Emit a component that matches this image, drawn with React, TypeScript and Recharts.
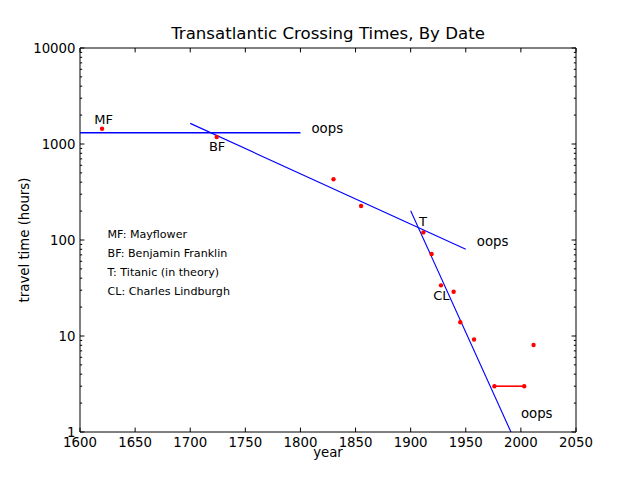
import React from 'react';
import { ComposedChart, XAxis, YAxis, Line, Scatter } from 'recharts';

const xTicks = [1600, 1650, 1700, 1750, 1800, 1850, 1900, 1950, 2000, 2050];
const yMajorTicks = [1, 10, 100, 1000, 10000];
const yMinorFactors = [2, 3, 4, 5, 6, 7, 8, 9];

const crossings = [
  { x: 1620, y: 1443 },
  { x: 1724, y: 1183 },
  { x: 1830, y: 429 },
  { x: 1855, y: 226 },
  { x: 1911.5, y: 120 },
  { x: 1919, y: 71.5 },
  { x: 1927.5, y: 33.7 },
  { x: 1939, y: 28.9 },
  { x: 1945, y: 13.9 },
  { x: 1957.5, y: 9.2 },
  { x: 2011.5, y: 8.06 },
];

const concorde = [
  { x: 1976, y: 3 },
  { x: 2003, y: 3 },
];

const sailFit = [
  { x: 1600, y: 1310 },
  { x: 1800, y: 1310 },
];
const steamFit = [
  { x: 1700, y: 1640 },
  { x: 1950, y: 80 },
];
const jetFit = [
  { x: 1900, y: 202 },
  { x: 1991, y: 1 },
];

const pointLabels = [
  { x: 1613, y: 1616, label: 'MF' },
  { x: 1717, y: 845, label: 'BF' },
  { x: 1907.5, y: 140, label: 'T' },
  { x: 1920.5, y: 23.7, label: 'CL' },
];

const oopsLabels = [
  { x: 1810, y: 1302, label: 'oops' },
  { x: 1960, y: 86.6, label: 'oops' },
  { x: 2000, y: 1.41, label: 'oops' },
];

const legendLines = [
  { x: 1625, y: 104, label: 'MF: Mayflower' },
  { x: 1625, y: 66, label: 'BF: Benjamin Franklin' },
  { x: 1625, y: 42, label: 'T: Titanic (in theory)' },
  { x: 1625, y: 26.7, label: 'CL: Charles Lindburgh' },
];

const titleText = 'Transatlantic Crossing Times, By Date';
const xLabel = 'year';
const yLabel = 'travel time (hours)';

const FONT = 'DejaVu Sans';

const yTicks: number[] = [];
yMajorTicks.forEach((m, i) => {
  yTicks.push(m);
  if (i < yMajorTicks.length - 1) yMinorFactors.forEach((f) => yTicks.push(m * f));
});
const isMajor = (v: number) => yMajorTicks.includes(v);

const BottomTick = (p: any) => (
  <g>
    <line x1={p.x} y1={p.y} x2={p.x} y2={p.y - 4.4} stroke="#000" strokeWidth={1} />
    <text x={p.x} y={p.y + 15} textAnchor="middle" fontSize={13.3} fontFamily={FONT} fill="#000">
      {p.payload.value}
    </text>
  </g>
);

const TopTick = (p: any) => (
  <line x1={p.x} y1={p.y} x2={p.x} y2={p.y + 4.4} stroke="#000" strokeWidth={1} />
);

const LeftTick = (p: any) => {
  const major = isMajor(p.payload.value);
  return (
    <g>
      <line x1={p.x} y1={p.y} x2={p.x + (major ? 4.4 : 2.2)} y2={p.y} stroke="#000" strokeWidth={1} />
      {major && (
        <text x={p.x - 4.5} y={p.y + 4.8} textAnchor="end" fontSize={13.3} fontFamily={FONT} fill="#000">
          {p.payload.value}
        </text>
      )}
    </g>
  );
};

const RightTick = (p: any) => {
  const major = isMajor(p.payload.value);
  return <line x1={p.x} y1={p.y} x2={p.x - (major ? 4.4 : 2.2)} y2={p.y} stroke="#000" strokeWidth={1} />;
};

const Dot = (p: any) => <circle cx={p.cx} cy={p.cy} r={2.2} fill="#ff0000" />;

const makeText = (size: number) => (p: any) => (
  <text x={p.cx} y={p.cy} textAnchor="start" fontSize={size} fontFamily={FONT} fill="#000">
    {p.payload.label}
  </text>
);
const PointLabel = makeText(13);
const OopsLabel = makeText(13.3);
const LegendText = makeText(11.1);

export default function App() {
  return (
    <div style={{ position: 'absolute', left: 0, top: 0, width: 640, height: 480, background: '#fff' }}>
      <ComposedChart width={640} height={480} margin={{ top: 38, right: 54, bottom: 18, left: 20 }}>
        <XAxis
          dataKey="x"
          type="number"
          domain={[1600, 2050]}
          ticks={xTicks}
          allowDataOverflow
          height={30}
          tickSize={0}
          tickMargin={0}
          tickLine={false}
          interval={0}
          axisLine={{ stroke: '#000', strokeWidth: 1 }}
          tick={BottomTick}
        />
        <XAxis
          xAxisId="top"
          orientation="top"
          dataKey="x"
          type="number"
          domain={[1600, 2050]}
          ticks={xTicks}
          allowDataOverflow
          height={10}
          tickSize={0}
          tickMargin={0}
          tickLine={false}
          interval={0}
          axisLine={{ stroke: '#000', strokeWidth: 1 }}
          tick={TopTick}
        />
        <YAxis
          dataKey="y"
          type="number"
          scale="log"
          domain={[1, 10000]}
          ticks={yTicks}
          allowDataOverflow
          width={60}
          tickSize={0}
          tickMargin={0}
          tickLine={false}
          interval={0}
          axisLine={{ stroke: '#000', strokeWidth: 1 }}
          tick={LeftTick}
        />
        <YAxis
          yAxisId="right"
          orientation="right"
          dataKey="y"
          type="number"
          scale="log"
          domain={[1, 10000]}
          ticks={yTicks}
          allowDataOverflow
          width={10}
          tickSize={0}
          tickMargin={0}
          tickLine={false}
          interval={0}
          axisLine={{ stroke: '#000', strokeWidth: 1 }}
          tick={RightTick}
        />
        <Line data={sailFit} dataKey="y" stroke="#0000ff" strokeWidth={1.3} dot={false} isAnimationActive={false} />
        <Line data={steamFit} dataKey="y" stroke="#0000ff" strokeWidth={1.1} dot={false} isAnimationActive={false} />
        <Line data={jetFit} dataKey="y" stroke="#0000ff" strokeWidth={1.1} dot={false} isAnimationActive={false} />
        <Line
          data={concorde}
          dataKey="y"
          stroke="#ff0000"
          strokeWidth={1.6}
          dot={{ r: 2.2, fill: '#ff0000', stroke: 'none' }}
          isAnimationActive={false}
        />
        <Scatter data={crossings} dataKey="y" shape={Dot} isAnimationActive={false} />
        <Scatter data={pointLabels} dataKey="y" shape={PointLabel} isAnimationActive={false} />
        <Scatter data={oopsLabels} dataKey="y" shape={OopsLabel} isAnimationActive={false} />
        <Scatter data={legendLines} dataKey="y" shape={LegendText} isAnimationActive={false} />
      </ComposedChart>
      <svg
        width={640}
        height={480}
        style={{ position: 'absolute', left: 0, top: 0, pointerEvents: 'none' }}
      >
        <text x={328} y={39} textAnchor="middle" fontSize={16.6} fontFamily={FONT} fill="#000">
          {titleText}
        </text>
        <text x={328} y={457} textAnchor="middle" fontSize={13.3} fontFamily={FONT} fill="#000">
          {xLabel}
        </text>
        <text
          x={0}
          y={0}
          transform="translate(28.5,240) rotate(-90)"
          textAnchor="middle"
          fontSize={13.3}
          fontFamily={FONT}
          fill="#000"
        >
          {yLabel}
        </text>
      </svg>
    </div>
  );
}
